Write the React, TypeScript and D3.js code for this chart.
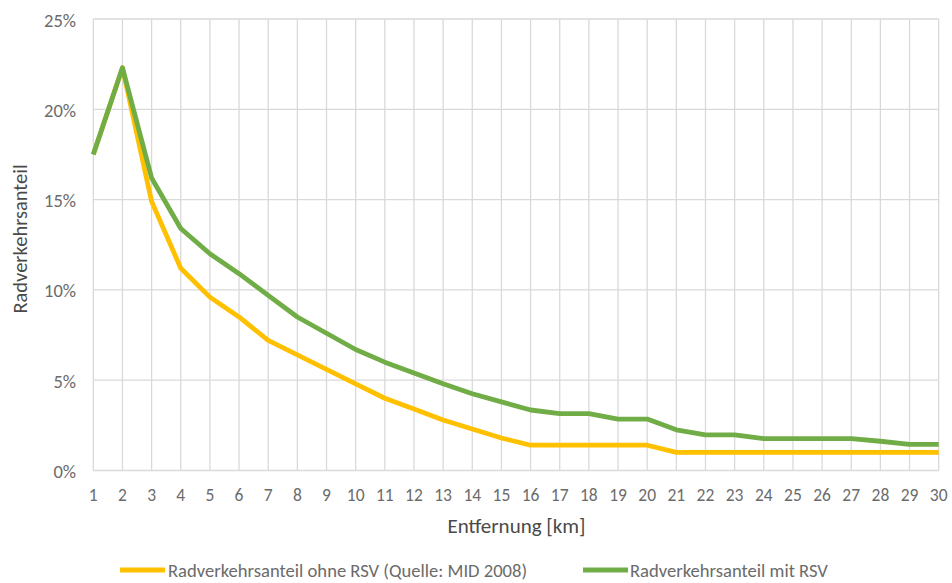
import React from "react";
import * as d3 from "d3";

const distances = d3.range(1, 31);
const ohneRSV = [17.5, 22.3, 14.9, 11.2, 9.6, 8.5, 7.2, 6.4, 5.6, 4.8, 4.0, 3.4, 2.8, 2.3, 1.8, 1.4, 1.4, 1.4, 1.4, 1.4, 1.0, 1.0, 1.0, 1.0, 1.0, 1.0, 1.0, 1.0, 1.0, 1.0];
const mitRSV = [17.5, 22.3, 16.2, 13.4, 12.0, 10.9, 9.7, 8.5, 7.6, 6.7, 6.0, 5.4, 4.8, 4.25, 3.8, 3.35, 3.15, 3.15, 2.85, 2.85, 2.25, 1.97, 1.97, 1.76, 1.76, 1.76, 1.76, 1.62, 1.45, 1.45];
const yTicks = [0, 5, 10, 15, 20, 25];
const seriesNames = ["Radverkehrsanteil ohne RSV (Quelle: MID 2008)", "Radverkehrsanteil mit RSV"];
const colors = ["#FFC000", "#70AD47"];

const W = 952, H = 583;
const FONT = "Carlito, Calibri, 'Liberation Sans Narrow', 'Open Sans', sans-serif";

export default function App() {
  const x = d3.scaleLinear().domain([1, 30]).range([93.3, 938.7]);
  const y = d3.scaleLinear().domain([0, 25]).range([470.5, 19]);
  const line = d3.line<number>().x((_, i) => x(distances[i])).y((d) => y(d));
  const textColor = "#6b6b6b";
  const titleColor = "#4a4a4a";
  const grid = "#d9d9d9";
  return (
    <svg width={W} height={H} style={{ position: "absolute", left: 0, top: 0, background: "#fff" }} fontFamily={FONT}>
      {distances.map((d) => (
        <line key={"v" + d} x1={x(d)} x2={x(d)} y1={y(25)} y2={y(0)} stroke={grid} strokeWidth={1.3} />
      ))}
      {yTicks.map((t) => (
        <line key={"h" + t} x1={x(1)} x2={x(30)} y1={y(t)} y2={y(t)} stroke={grid} strokeWidth={1.3} />
      ))}
      {yTicks.map((t) => (
        <text key={"yt" + t} x={76} y={y(t) + 7.5} textAnchor="end" fontSize={18.5} fill={textColor}>{t}%</text>
      ))}
      {distances.map((d) => (
        <text key={"xt" + d} x={x(d)} y={501} textAnchor="middle" fontSize={17.5} fill={textColor}>{d}</text>
      ))}
      <text x={516.5} y={533} textAnchor="middle" fontSize={21} fill={titleColor}>Entfernung [km]</text>
      <text transform={`translate(27,239) rotate(-90)`} textAnchor="middle" fontSize={20.5} fill={titleColor}>Radverkehrsanteil</text>
      <path d={line(ohneRSV) || ""} fill="none" stroke={colors[0]} strokeWidth={4.8} strokeLinejoin="round" />
      <path d={line(mitRSV) || ""} fill="none" stroke={colors[1]} strokeWidth={4.8} strokeLinejoin="round" />
      <g>
        <line x1={120} x2={165} y1={570} y2={570} stroke={colors[0]} strokeWidth={4.8} />
        <text x={168} y={576.5} fontSize={18.6} fill={textColor}>{seriesNames[0]}</text>
        <line x1={583} x2={628} y1={570} y2={570} stroke={colors[1]} strokeWidth={4.8} />
        <text x={630} y={576.5} fontSize={18.6} fill={textColor}>{seriesNames[1]}</text>
      </g>
    </svg>
  );
}
